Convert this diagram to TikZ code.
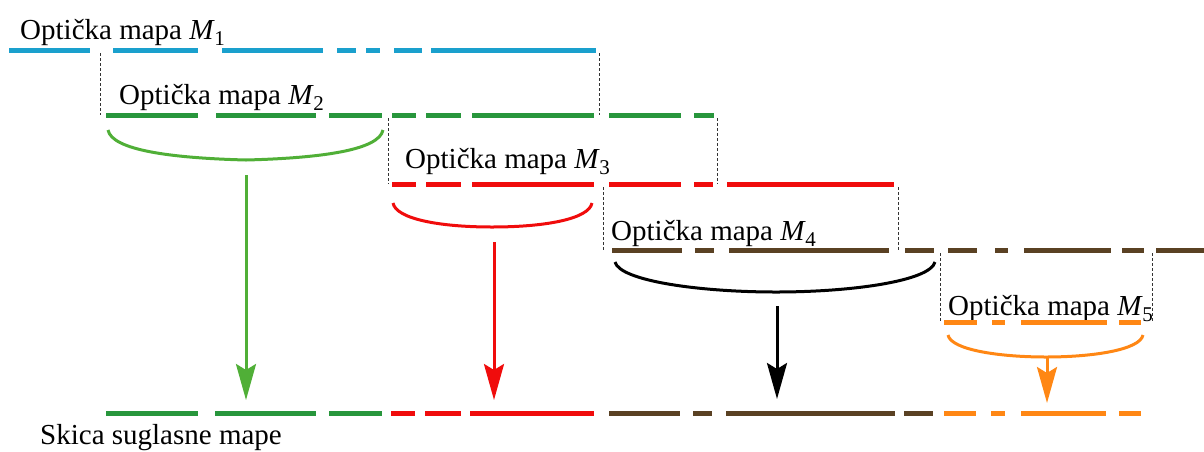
\documentclass[tikz,border=0pt]{standalone}
\usepackage{fontspec}
\newfontfamily\timesf{LiberationSerif}[Extension=.ttf,UprightFont=*-Regular,ItalicFont=*-Italic,BoldFont=*-Bold]
\usetikzlibrary{arrows.meta}
\definecolor{mblue}{RGB}{26,160,205}
\definecolor{mgreen}{RGB}{40,150,60}
\definecolor{bgreen}{RGB}{80,175,55}
\definecolor{mred}{RGB}{240,12,12}
\definecolor{mbrown}{RGB}{90,65,35}
\definecolor{morange}{RGB}{255,135,20}
\newcommand{\Mi}[1]{{\itshape M}\kern1pt\raisebox{-6pt}{\fontsize{21}{21}\selectfont #1}}
\begin{document}
\begin{tikzpicture}[x=1pt,y=-1pt,
  lbl/.style={anchor=base west,inner sep=0pt,font=\timesf\fontsize{29}{34}\selectfont},
  seg/.style={line width=5pt},
  vd/.style={line width=0.8pt,dash pattern=on 3pt off 2pt,black!80},
  brc/.style={line width=3pt},
  arr/.style={line width=3pt,-{Stealth[length=36pt,width=20pt,inset=6pt]}}]
\useasboundingbox (0,0) rectangle (1204,451);

% labels
\node[lbl] (l1) at (20,39) {Optička mapa \Mi{1}};
\node[lbl] (l2) at (119,104) {Optička mapa \Mi{2}};
\node[lbl] (l3) at (405,168) {Optička mapa \Mi{3}};
\node[lbl] (l4) at (611,240) {Optička mapa \Mi{4}};
\node[lbl] (l5) at (948,315) {Optička mapa \Mi{5}};
\node[lbl] (ls) at (40,444) {Skica suglasne mape};

% map lines
\foreach \a/\b in {9/90,113/198,222/323,337/356,366/380,394/422,431/596}
  \draw[seg,mblue] (\a,50) -- (\b,50);
\foreach \a/\b in {106/198,216/316,329/382,392/416,426/461,472/594,609/681,694/714}
  \draw[seg,mgreen] (\a,115) -- (\b,115);
\foreach \a/\b in {392/416,426/461,472/594,609/681,694/713,727/894}
  \draw[seg,mred] (\a,184) -- (\b,184);
\foreach \a/\b in {612/682,695/714,729/889,905/934,948/977,995/1008,1024/1111,1122/1144,1156/1204}
  \draw[seg,mbrown] (\a,250) -- (\b,250);
\foreach \a/\b in {944/977,992/1005,1021/1107,1119/1141}
  \draw[seg,morange] (\a,322) -- (\b,322);

% consensus line
\foreach \a/\b in {106/198,215/316,329/382}
  \draw[seg,mgreen] (\a,413) -- (\b,413);
\foreach \a/\b in {391/415,425/461,470/594}
  \draw[seg,mred] (\a,413) -- (\b,413);
\foreach \a/\b in {609/680,693/712,726/895,904/933}
  \draw[seg,mbrown] (\a,413) -- (\b,413);
\foreach \a/\b in {944/976,991/1005,1021/1106,1119/1141}
  \draw[seg,morange] (\a,413) -- (\b,413);

% dashed guides
\foreach \x/\ya/\yb in {100/53/115,599/53/115,388/118/184,717/118/184,603/187/250,898/187/250,940/253/322,1152/253/322}
  \draw[vd] (\x,\ya) -- (\x,\yb);

% braces
\draw[brc,bgreen] (108,130) .. controls (112,150) and (170,158) .. (246,160)
  .. controls (322,158) and (379,150) .. (383,130);
\draw[brc,mred] (393,203) .. controls (396,219) and (440,227) .. (492,227)
  .. controls (545,227) and (589,219) .. (592,203);
\draw[brc,black] (615,262) .. controls (620,281) and (700,292) .. (776,292)
  .. controls (852,292) and (930,281) .. (935,262);
\draw[brc,morange] (948,335) .. controls (951,350) and (1000,357) .. (1046,357)
  .. controls (1092,357) and (1140,350) .. (1143,335);

% arrows
\coordinate (gA) at (246,175); \coordinate (gB) at (246,400);
\coordinate (rA) at (494,242); \coordinate (rB) at (494,400);
\coordinate (kA) at (777,306); \coordinate (kB) at (777,399);
\coordinate (oA) at (1047,358); \coordinate (oB) at (1047,403);
\draw[arr,bgreen] (gA) -- (gB);
\draw[arr,mred] (rA) -- (rB);
\draw[arr,black] (kA) -- (kB);
\draw[arr,morange] (oA) -- (oB);
\end{tikzpicture}
\end{document}
